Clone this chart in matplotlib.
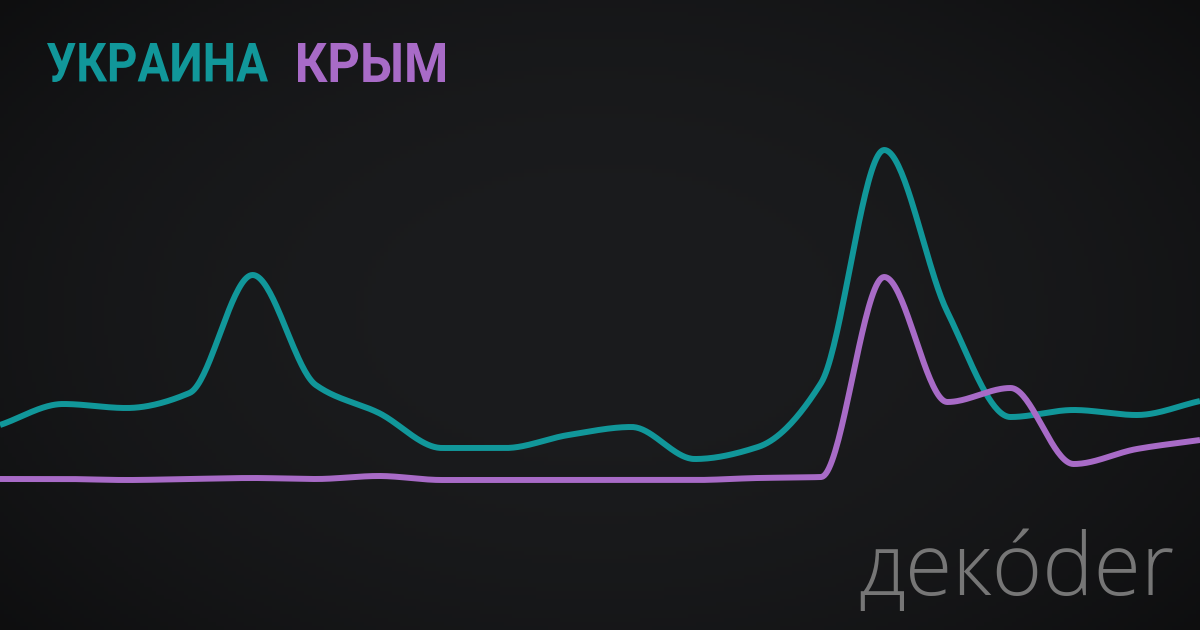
import matplotlib
matplotlib.use('Agg')
import matplotlib.pyplot as plt
import numpy as np
from matplotlib.textpath import TextPath
from matplotlib.patches import PathPatch
from matplotlib.font_manager import FontProperties
from matplotlib.transforms import Affine2D

# values (pixel height above bottom edge, 630 px canvas)
ukraine = [205, 226, 222, 237, 355, 245, 217, 182, 182, 195, 203, 171, 183, 247, 480, 318, 213, 220, 215, 229]
crimea = [151, 151, 150, 151, 152, 151, 154, 150, 150, 150, 150, 150, 152, 153, 353, 228, 242, 166, 181, 190]

teal = '#11979a'
purple = '#a86bc7'


def monotone(y, n=40):
    # monotone cubic (Fritsch-Carlson) for a smooth line through the points
    y = np.asarray(y, float)
    x = np.arange(len(y), dtype=float)
    d = np.diff(y)
    m = np.zeros_like(y)
    m[0], m[-1] = d[0], d[-1]
    for i in range(1, len(y) - 1):
        if d[i - 1] * d[i] > 0:
            m[i] = 2 / (1 / d[i - 1] + 1 / d[i])
    xs, ys = [], []
    for i in range(len(y) - 1):
        t = np.linspace(0, 1, n, endpoint=False)
        h00 = 2 * t**3 - 3 * t**2 + 1
        h10 = t**3 - 2 * t**2 + t
        h01 = -2 * t**3 + 3 * t**2
        h11 = t**3 - t**2
        xs.append(x[i] + t)
        ys.append(h00 * y[i] + h10 * m[i] + h01 * y[i + 1] + h11 * m[i + 1])
    xs.append([x[-1]])
    ys.append([y[-1]])
    return np.concatenate(xs), np.concatenate(ys)


def boxed_word(ax, word, x0, x1, top, bottom, color):
    # bold word squeezed into a pixel box (condensed look)
    p = TextPath((0, 0), word, size=50, prop=FontProperties(family='Roboto', weight='bold'))
    ext = p.get_extents()
    sx = (x1 - x0) / ext.width
    sy = (bottom - top) / ext.height
    tr = Affine2D().translate(-ext.x0, -ext.y0).scale(sx, sy).translate(x0, 630 - bottom)
    ax.add_patch(PathPatch(tr.transform_path(p), color=color, lw=0))


fig = plt.figure(figsize=(12, 6.3), dpi=100)

# dark vignette background
bg = fig.add_axes([0, 0, 1, 1])
gx, gy = np.meshgrid(np.linspace(-1, 1, 300), np.linspace(-1, 1, 160))
r = np.sqrt((gx / 1.1) ** 2 + (gy / 1.3) ** 2)
shade = np.clip(1 - 0.55 * r ** 2.2, 0, 1)
c_in = np.array([0x1b, 0x1c, 0x1e]) / 255
c_out = np.array([0x0b, 0x0b, 0x0c]) / 255
img = c_out + (c_in - c_out) * shade[..., None]
bg.imshow(img, aspect='auto', extent=[0, 1, 0, 1], origin='lower')
bg.axis('off')

ax = fig.add_axes([0, 0, 1, 1])
ax.patch.set_alpha(0)
n = len(ukraine)
xs, ys = monotone(ukraine)
ax.plot(xs, ys, color=teal, lw=4.3, solid_capstyle='butt')
xs, ys = monotone(crimea)
ax.plot(xs, ys, color=purple, lw=4.3, solid_capstyle='butt')
ax.set_xlim(0, n - 1)
ax.set_ylim(0, 630)
ax.axis('off')

# title words drawn in pixel coordinates of the figure
tx = fig.add_axes([0, 0, 1, 1])
tx.set_xlim(0, 1200)
tx.set_ylim(0, 630)
tx.axis('off')
boxed_word(tx, 'УКРАИНА', 47, 268, 43, 82, teal)
boxed_word(tx, 'КРЫМ', 298, 445, 43, 82, purple)

fig.text(858 / 1200, 1 - 595 / 630, 'декóder', color='#767676', fontsize=62,
         fontweight='light', family=['Open Sans', 'Lato', 'DejaVu Sans'], va='baseline')

fig.savefig('out.png', dpi=100)
